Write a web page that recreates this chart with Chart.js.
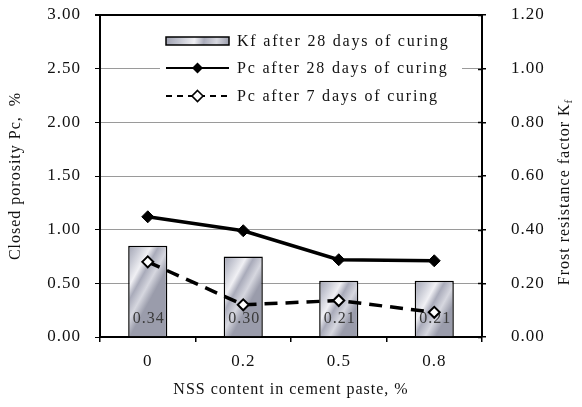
<!DOCTYPE html>
<html>
<head>
<meta charset="utf-8">
<script src="https://cdn.jsdelivr.net/npm/chart.js@4/dist/chart.umd.min.js"></script>
<style>
  html, body { margin: 0; padding: 0; background: #fff; }
  #wrap { width: 582px; height: 407px; position: relative; }
</style>
</head>
<body>
<div id="wrap"><canvas id="c" width="582" height="407"></canvas></div>
<script>
// NSS content categories and measured series
const categories = ['0', '0.2', '0.5', '0.8'];
const kf28 = [0.34, 0.30, 0.21, 0.21];   // frost resistance factor, 28 days
const pc28 = [1.12, 0.99, 0.72, 0.71];   // closed porosity, 28 days (%)
const pc7  = [0.70, 0.30, 0.34, 0.23];   // closed porosity, 7 days (%)
const seriesNames = ['Kf after 28 days of curing', 'Pc after 28 days of curing', 'Pc after 7 days of curing'];
const axisTitles = { x: 'NSS content in cement paste, %', left: 'Closed porosity Pc,  %', right: 'Frost resistance factor K', rightSub: 'f' };

const SERIF = '"Liberation Serif", "Times New Roman", serif';
const SPACING = '1px';

// silver metallic fill for a rectangle
function metalGradient(g, x0, y0, x1, y1) {
  const gr = g.createLinearGradient(x0, y0, x1, y1);
  gr.addColorStop(0.00, '#9fa1b0');
  gr.addColorStop(0.22, '#c4c6d1');
  gr.addColorStop(0.45, '#f0f0f4');
  gr.addColorStop(0.60, '#a9abba');
  gr.addColorStop(0.80, '#d6d7df');
  gr.addColorStop(1.00, '#9a9cab');
  return gr;
}

function barFill(ctx) {
  const chart = ctx.chart;
  if (!chart.chartArea || ctx.type !== 'data') return '#c4c6d1';
  const xs = chart.scales.x, ys = chart.scales.yKf;
  const cx = xs.getPixelForValue(ctx.dataIndex);
  const half = 20;
  const top = ys.getPixelForValue(ctx.raw);
  return metalGradient(chart.ctx, cx - half, top, cx + half, top + 22);
}

// slightly wide letter spacing for all chart text
const textSpacing = {
  id: 'textSpacing',
  afterInit(chart) { chart.ctx.letterSpacing = SPACING; },
  beforeUpdate(chart) { chart.ctx.letterSpacing = SPACING; },
  beforeDraw(chart) { chart.ctx.letterSpacing = SPACING; }
};

// value labels inside the bars, near the base
const barLabels = {
  id: 'barLabels',
  afterDatasetDraw(chart, args) {
    if (args.index !== 0) return;
    const g = chart.ctx;
    const base = chart.scales.yKf.getPixelForValue(0);
    g.save();
    g.font = '16px ' + SERIF;
    g.fillStyle = '#3a3a3a';
    g.textAlign = 'center';
    g.textBaseline = 'middle';
    args.meta.data.forEach((el, i) => {
      g.fillText(kf28[i].toFixed(2), el.x + 1, base - 18);
    });
    g.restore();
  }
};

// legend box drawn inside the plot area, the inner half of the right-axis ticks,
// and the right axis title with its subscript
const innerLegend = {
  id: 'innerLegend',
  afterDraw(chart) {
    const g = chart.ctx;
    const ca = chart.chartArea;
    g.save();

    // right axis ticks cross the axis line
    const rs = chart.scales.yKf;
    g.strokeStyle = '#000';
    g.lineWidth = 1.5;
    rs.ticks.forEach(t => {
      const y = Math.round(rs.getPixelForValue(t.value)) + 0.5;
      g.beginPath(); g.moveTo(ca.right - 4, y); g.lineTo(ca.right, y); g.stroke();
    });

    const bx = 160, by = 28, bw = 302, bh = 80;
    g.fillStyle = '#fff';
    g.fillRect(bx, by, bw, bh);
    const sx = 166, sw = 63, tx = 237;
    const rows = [41, 68, 96];
    const mx = sx + sw / 2;
    g.textAlign = 'left';
    g.textBaseline = 'middle';
    // bar swatch
    g.fillStyle = metalGradient(g, sx, rows[0] - 4, sx + sw, rows[0] + 4);
    g.fillRect(sx, rows[0] - 4, sw, 8);
    g.strokeStyle = '#000';
    g.lineWidth = 1.5;
    g.strokeRect(sx, rows[0] - 4, sw, 8);
    // solid line swatch with filled diamond
    g.lineWidth = 2;
    g.beginPath(); g.moveTo(sx, rows[1]); g.lineTo(sx + sw, rows[1]); g.stroke();
    g.fillStyle = '#000';
    g.beginPath();
    g.moveTo(mx, rows[1] - 5.5); g.lineTo(mx + 5.5, rows[1]); g.lineTo(mx, rows[1] + 5.5); g.lineTo(mx - 5.5, rows[1]); g.closePath();
    g.fill();
    // dashed line swatch with open diamond
    g.setLineDash([6, 5]);
    g.beginPath(); g.moveTo(sx, rows[2]); g.lineTo(sx + sw, rows[2]); g.stroke();
    g.setLineDash([]);
    g.fillStyle = '#fff';
    g.beginPath();
    g.moveTo(mx, rows[2] - 5.5); g.lineTo(mx + 5.5, rows[2]); g.lineTo(mx, rows[2] + 5.5); g.lineTo(mx - 5.5, rows[2]); g.closePath();
    g.fill(); g.lineWidth = 1.6; g.stroke();
    // texts
    g.font = '16px ' + SERIF;
    g.letterSpacing = '1.8px';
    g.fillStyle = '#111';
    seriesNames.forEach((t, i) => g.fillText(t, tx, rows[i] + 1));
    g.letterSpacing = SPACING;

    // right axis title, rotated
    const rx = 565, ry = (ca.top + ca.bottom) / 2 + 16;
    g.translate(rx, ry);
    g.rotate(-Math.PI / 2);
    g.font = '16px ' + SERIF;
    const w1 = g.measureText(axisTitles.right).width;
    g.font = '11px ' + SERIF;
    const w2 = g.measureText(axisTitles.rightSub).width;
    const start = -(w1 + w2) / 2;
    g.font = '16px ' + SERIF;
    g.fillStyle = '#111';
    g.fillText(axisTitles.right, start, 0);
    g.font = '11px ' + SERIF;
    g.fillText(axisTitles.rightSub, start + w1, 4);
    g.restore();
  }
};

// fixed side widths; the top of the plot is set by the layout padding alone
function fixVertical(width) {
  return s => { s.width = width; s.paddingTop = 0; s.paddingBottom = 0; };
}

new Chart(document.getElementById('c'), {
  data: {
    labels: categories,
    datasets: [
      {
        type: 'bar', label: seriesNames[0], data: kf28, yAxisID: 'yKf', order: 2,
        backgroundColor: barFill, borderColor: '#000', borderWidth: 1.5,
        barPercentage: 0.41, categoryPercentage: 1.0
      },
      {
        type: 'line', label: seriesNames[1], data: pc28, yAxisID: 'yPc', order: 1,
        borderColor: '#000', borderWidth: 3.5, backgroundColor: '#000',
        pointStyle: 'rectRot', pointRadius: 6, pointBorderWidth: 1, tension: 0
      },
      {
        type: 'line', label: seriesNames[2], data: pc7, yAxisID: 'yPc', order: 0,
        borderColor: '#000', borderWidth: 3.5, borderDash: [13, 8],
        pointStyle: 'rectRot', pointRadius: 5.5, pointBackgroundColor: '#fff',
        pointBorderColor: '#000', pointBorderWidth: 2, tension: 0
      }
    ]
  },
  options: {
    responsive: false,
    maintainAspectRatio: false,
    animation: false,
    devicePixelRatio: 1,
    layout: { padding: { top: 15, left: 0, right: 0, bottom: 0 } },
    plugins: { legend: { display: false }, tooltip: { enabled: false } },
    events: [],
    scales: {
      x: {
        offset: true,
        grid: { offset: true, drawOnChartArea: false, drawTicks: true, tickLength: 5, tickColor: '#000', lineWidth: 1.5 },
        border: { color: '#000', width: 2 },
        ticks: { font: { family: SERIF, size: 17 }, color: '#111', padding: 9, maxRotation: 0 },
        title: { display: true, text: axisTitles.x, font: { family: SERIF, size: 16 }, color: '#111', padding: { top: 4, bottom: 8 } },
        afterFit(s) { s.height = 70; s.paddingLeft = 0; s.paddingRight = 0; }
      },
      yPc: {
        position: 'left', min: 0, max: 3,
        ticks: { stepSize: 0.5, callback: v => v.toFixed(2), font: { family: SERIF, size: 17 }, color: '#111', padding: 14 },
        grid: {
          color: c => (c.tick && c.tick.value === 3) ? '#000' : '#9a9a9a',
          lineWidth: c => (c.tick && c.tick.value === 3) ? 2 : 1,
          tickColor: '#000', tickLength: 5
        },
        border: { color: '#000', width: 2 },
        title: { display: true, text: axisTitles.left, font: { family: SERIF, size: 16 }, color: '#111', padding: { top: 6, bottom: 0 } },
        afterFit: fixVertical(100)
      },
      yKf: {
        position: 'right', min: 0, max: 1.2,
        ticks: { stepSize: 0.2, callback: v => v.toFixed(2), font: { family: SERIF, size: 17 }, color: '#111', padding: 25 },
        grid: { drawOnChartArea: false, tickColor: '#000', tickLength: 4, lineWidth: 1.5 },
        border: { color: '#000', width: 2 },
        afterFit: fixVertical(100)
      }
    }
  },
  plugins: [textSpacing, barLabels, innerLegend]
});
</script>
</body>
</html>
